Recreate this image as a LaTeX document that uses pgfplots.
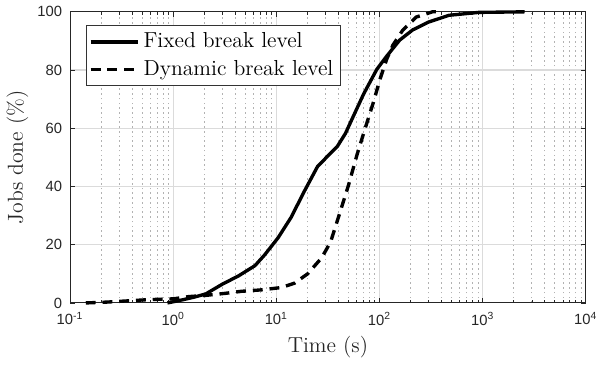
\documentclass[border=0pt]{standalone}
\usepackage{fontspec}
\usepackage{pgfplots}
\pgfplotsset{compat=1.18}
\newfontfamily\tickfont{Liberation Sans}
\definecolor{axcol}{RGB}{38,38,38}
\begin{document}
\begin{tikzpicture}
\begin{axis}[
  name=ax,
  scale only axis,
  width=261.5pt, height=147.6pt,
  xmode=log, log basis x=10,
  xmin=0.1, xmax=10000,
  ymin=0, ymax=100,
  xtick={0.1,1,10,100,1000,10000},
  xticklabels={10\textsuperscript{-1},10\textsuperscript{0},10\textsuperscript{1},10\textsuperscript{2},10\textsuperscript{3},10\textsuperscript{4}},
  minor xtick={0.2,0.3,0.4,0.5,0.6,0.7,0.8,0.9,2,3,4,5,6,7,8,9,20,30,40,50,60,70,80,90,200,300,400,500,600,700,800,900,2000,3000,4000,5000,6000,7000,8000,9000},
  ytick={0,20,40,60,80,100},
  yticklabels={0,20,40,60,80,100},
  tick align=inside,
  major tick length=2.6pt,
  minor tick length=1.6pt,
  axis line style={axcol, line width=0.5pt},
  tick style={axcol, line width=0.4pt},
  ticklabel style={font=\fontsize{7.5}{9}\selectfont\tickfont, text=axcol},
  xticklabel style={yshift=-1pt},
  yticklabel style={xshift=-0.5pt},
  xmajorgrids, xminorgrids, ymajorgrids,
  major grid style={color=black!14, line width=0.55pt},
  minor grid style={color=black!30, line width=0.45pt, dash pattern=on 0.8pt off 1.6pt},
  xlabel={Time (s)},
  ylabel={Jobs done (\%)},
  label style={font=\fontsize{11}{13}\selectfont, text=axcol},
  xlabel style={at={(axis description cs:0.5,-0.150)}, anchor=center},
  ylabel style={at={(axis description cs:-0.102,0.5)}, anchor=center, rotate=0},
  clip=false,
  legend style={at={(axis description cs:0.03,0.953)}, anchor=north west,
    draw=black!80, line width=0.5pt, fill=white, font=\fontsize{11}{13}\selectfont,
    inner xsep=1.5pt, inner ysep=1.5pt, row sep=1pt},
  legend cell align=left,
  legend image code/.code={\draw[#1] (0pt,0pt) -- (24pt,0pt);},
]
\addplot[black, line width=1.7pt] coordinates {
(0.88,0) (1.0,0.4) (1.24,1.1) (1.6,2) (2.07,3.1) (2.98,6.4) (4.3,9.3) (6.2,12.8)
(7.7,16.5) (10.4,22.4) (13.9,29.4) (18.7,38.4) (25.1,46.9) (31.2,50.3) (38.9,53.7)
(46.7,58.2) (56.2,64.4) (70,71.7) (94,80.2) (117,84.7) (157,90.3) (210,93.8)
(300,96.5) (471,98.8) (912,99.8) (2550,100)
};
\addlegendentry{Fixed break level}
\addplot[black, line width=1.7pt, dash pattern=on 5pt off 3.5pt] coordinates {
(0.142,0) (0.229,0.3) (0.356,0.7) (0.552,1.1) (0.857,1.35) (1.0,1.4) (1.43,2.2)
(2.07,2.6) (3.2,3.3) (4.6,4.0) (7.2,4.5) (11.2,5.3) (15,6.8) (20.1,10.0) (27.5,15.5)
(33.6,21) (41.8,31.6) (50.2,40.6) (60.4,50.8) (72.5,59.9) (87.2,68.9) (101,76.8)
(117,83.6) (135,88.6) (168,93.7) (227,98.2) (326,100) (407,100)
};
\addlegendentry{Dynamic break level}
\end{axis}
\useasboundingbox (ax.south west) ++(-34.65pt,-30.65pt) rectangle ++(302pt,184pt);
\end{tikzpicture}
\end{document}
